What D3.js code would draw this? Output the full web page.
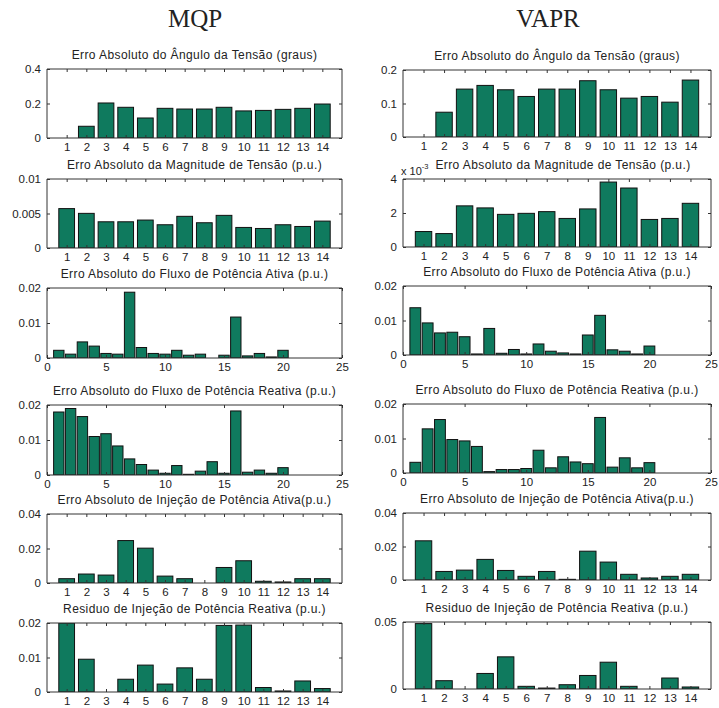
<!DOCTYPE html>
<html><head><meta charset="utf-8">
<script src="https://cdn.jsdelivr.net/npm/d3@7/dist/d3.min.js"></script>
<style>body{margin:0;background:#fff}svg{display:block}</style>
</head><body><svg id="c" width="719" height="708"></svg>
<script>
// ---------- data ----------
const columnTitles = ["MQP", "VAPR"];
const buses = [1,2,3,4,5,6,7,8,9,10,11,12,13,14];
const branches = [1,2,3,4,5,6,7,8,9,10,11,12,13,14,15,16,17,18,19,20];
const branchTicks = [0,5,10,15,20,25];

const panelTitles = [
  "Erro Absoluto do Ângulo da Tensão (graus)",
  "Erro Absoluto da Magnitude de Tensão (p.u.)",
  "Erro Absoluto do Fluxo de Potência Ativa  (p.u.)",
  "Erro Absoluto do Fluxo de Potência Reativa (p.u.)",
  "Erro Absoluto de Injeção de Potência Ativa(p.u.)",
  "Residuo de Injeção de Potência Reativa (p.u.)"
];

const mqpAngle  = [0, 0.068, 0.203, 0.178, 0.116, 0.172, 0.168, 0.168, 0.178, 0.157, 0.160, 0.166, 0.172, 0.197];
const vaprAngle = [0, 0.074, 0.143, 0.154, 0.141, 0.121, 0.143, 0.143, 0.168, 0.141, 0.116, 0.121, 0.104, 0.170];

const mqpMag  = [0.00571, 0.00502, 0.00380, 0.00380, 0.00405, 0.00337, 0.00459, 0.00366, 0.00473, 0.00298, 0.00283, 0.00337, 0.00312, 0.00390];
const vaprMag = [0.00091, 0.00079, 0.00242, 0.00230, 0.00192, 0.00198, 0.00208, 0.00168, 0.00224, 0.00382, 0.00347, 0.00162, 0.00168, 0.00257];

const mqpPFlow  = [0.0022, 0.0011, 0.0046, 0.0034, 0.0013, 0.0011, 0.0188, 0.0030, 0.0013, 0.0011, 0.0022, 0.0008, 0.0011, 0, 0.0008, 0.0117, 0.0006, 0.0013, 0.0003, 0.0022];
const vaprPFlow = [0.0137, 0.0093, 0.0064, 0.0066, 0.0053, 0.0003, 0.0077, 0.0005, 0.0016, 0.0003, 0.0032, 0.0011, 0.0006, 0.0003, 0.0058, 0.0115, 0.0015, 0.0011, 0.0003, 0.0026];

const mqpQFlow  = [0.0180, 0.0190, 0.0167, 0.0110, 0.0118, 0.0083, 0.0046, 0.0030, 0.0014, 0.0005, 0.0027, 0.0002, 0.0011, 0.0038, 0.0005, 0.0183, 0.0008, 0.0014, 0.0005, 0.0021];
const vaprQFlow = [0.0031, 0.0128, 0.0155, 0.0097, 0.0093, 0.0077, 0.0004, 0.0010, 0.0010, 0.0013, 0.0066, 0.0015, 0.0047, 0.0032, 0.0027, 0.0161, 0.0017, 0.0044, 0.0015, 0.0030];

const mqpPInj  = [0.0025, 0.0052, 0.0046, 0.0246, 0.0202, 0.0040, 0.0025, 0, 0.0090, 0.0129, 0.0010, 0.0006, 0.0025, 0.0025];
const vaprPInj = [0.0234, 0.0051, 0.0059, 0.0123, 0.0057, 0.0022, 0.0051, 0.0004, 0.0172, 0.0107, 0.0034, 0.0012, 0.0022, 0.0034];

const mqpQRes  = [0.0200, 0.0095, 0, 0.0037, 0.0078, 0.0023, 0.0070, 0.0037, 0.0193, 0.0194, 0.0013, 0.0003, 0.0032, 0.0010];
const vaprQRes = [0.0488, 0.0062, 0, 0.0116, 0.0240, 0.0020, 0.0007, 0.0032, 0.0101, 0.0200, 0.0020, 0, 0.0082, 0.0015];

// y tick values and labels
const yTicksAngleL = [0, 0.2, 0.4],      yLabAngleL = ["0","0.2","0.4"];
const yTicksAngleR = [0, 0.1, 0.2],      yLabAngleR = ["0","0.1","0.2"];
const yTicksMagL   = [0, 0.005, 0.01],   yLabMagL   = ["0","0.005","0.01"];
const yTicksMagR   = [0, 0.002, 0.004],  yLabMagR   = ["0","2","4"];
const yTicksFlow   = [0, 0.01, 0.02],    yLabFlow   = ["0","0.01","0.02"];
const yTicksInj    = [0, 0.02, 0.04],    yLabInj    = ["0","0.02","0.04"];
const yTicksResL   = [0, 0.01, 0.02],    yLabResL   = ["0","0.01","0.02"];
const yTicksResR   = [0, 0.05],          yLabResR   = ["0","0.05"];

// ---------- layout ----------
const colX = [[47, 342], [403, 711]];
const rowY = [
  [[69,138],[179,248],[288,358],[405,475],[514,583],[623,692]],
  [[70,137],[179,247],[286,355],[404,473],[513,580],[622,689]]
];
const barColor = "#0f7a5e";

const panels = [
  {col:0,row:0,data:mqpAngle, cats:buses, xd:[0,15], yd:[0,0.4], yt:yTicksAngleL, yl:yLabAngleL},
  {col:1,row:0,data:vaprAngle,cats:buses, xd:[0,15], yd:[0,0.2], yt:yTicksAngleR, yl:yLabAngleR},
  {col:0,row:1,data:mqpMag,   cats:buses, xd:[0,15], yd:[0,0.01], yt:yTicksMagL, yl:yLabMagL},
  {col:1,row:1,data:vaprMag,  cats:buses, xd:[0,15], yd:[0,0.004], yt:yTicksMagR, yl:yLabMagR, expo:true},
  {col:0,row:2,data:mqpPFlow, cats:branches, xd:[0,25], yd:[0,0.02], yt:yTicksFlow, yl:yLabFlow, xt:branchTicks},
  {col:1,row:2,data:vaprPFlow,cats:branches, xd:[0,25], yd:[0,0.02], yt:yTicksFlow, yl:yLabFlow, xt:branchTicks},
  {col:0,row:3,data:mqpQFlow, cats:branches, xd:[0,25], yd:[0,0.02], yt:yTicksFlow, yl:yLabFlow, xt:branchTicks},
  {col:1,row:3,data:vaprQFlow,cats:branches, xd:[0,25], yd:[0,0.02], yt:yTicksFlow, yl:yLabFlow, xt:branchTicks},
  {col:0,row:4,data:mqpPInj,  cats:buses, xd:[0,15], yd:[0,0.04], yt:yTicksInj, yl:yLabInj},
  {col:1,row:4,data:vaprPInj, cats:buses, xd:[0,15], yd:[0,0.04], yt:yTicksInj, yl:yLabInj},
  {col:0,row:5,data:mqpQRes,  cats:buses, xd:[0,15], yd:[0,0.02], yt:yTicksResL, yl:yLabResL},
  {col:1,row:5,data:vaprQRes, cats:buses, xd:[0,15], yd:[0,0.05], yt:yTicksResR, yl:yLabResR}
];

const svg = d3.select("#c");
const FONT = "'Liberation Sans', Arial, sans-serif";

// column titles
const colTitleX = [195, 548];
svg.selectAll("text.ct").data(columnTitles).join("text")
  .attr("x", (d,i)=>colTitleX[i]).attr("y", 27)
  .attr("text-anchor","middle")
  .attr("font-family","'Liberation Serif','Times New Roman',serif")
  .attr("font-size", 25).attr("fill","#222").text(d=>d);

panels.forEach((p, idx) => {
  const [x0, x1] = colX[p.col];
  const [y0, y1] = rowY[p.col][p.row];
  const x = d3.scaleLinear().domain(p.xd).range([x0, x1]);
  const y = d3.scaleLinear().domain(p.yd).range([y1, y0]);
  const g = svg.append("g");
  const clipId = "clip" + idx;
  svg.append("clipPath").attr("id", clipId).append("rect")
    .attr("x", x0).attr("y", y0).attr("width", x1 - x0).attr("height", y1 - y0);

  const step = x(1) - x(0);
  const bw = step * (p.cats.length > 14 ? 0.88 : 0.8);

  g.append("g").attr("clip-path", `url(#${clipId})`)
    .selectAll("rect").data(p.data.map((v,i)=>({c:p.cats[i], v}))).join("rect")
    .filter(d => d.v > 0)
    .attr("x", d => x(d.c) - bw/2)
    .attr("y", d => y(d.v))
    .attr("width", bw)
    .attr("height", d => y(0) - y(d.v))
    .attr("fill", barColor).attr("stroke", "#111").attr("stroke-width", 1);

  // axes
  const xTicks = p.xt || p.cats;
  const tl = 3;
  const bottom = d3.axisBottom(x).tickValues(xTicks).tickSize(-tl).tickPadding(5).tickFormat(d3.format("d"));
  const top = d3.axisTop(x).tickValues(xTicks).tickSize(-tl).tickFormat("");
  const left = d3.axisLeft(y).tickValues(p.yt).tickSize(-tl).tickPadding(6).tickFormat((d,i)=>p.yl[i]);
  const right = d3.axisRight(y).tickValues(p.yt).tickSize(-tl).tickFormat("");

  const style = sel => {
    sel.selectAll("path.domain").attr("stroke", "#333").attr("stroke-width", 1);
    sel.selectAll(".tick line").attr("stroke", "#333");
    sel.selectAll("text").attr("font-family", FONT).attr("font-size", 11.5).attr("fill", "#222");
  };
  g.append("g").attr("transform", `translate(0,${y1})`).call(bottom).call(style)
    .call(s => s.select("path.domain").attr("d", `M${x0},0H${x1}`));
  g.append("g").attr("transform", `translate(0,${y0})`).call(top).call(style)
    .call(s => s.select("path.domain").attr("d", `M${x0},0H${x1}`));
  g.append("g").attr("transform", `translate(${x0},0)`).call(left).call(style)
    .call(s => s.select("path.domain").attr("d", `M0,${y0}V${y1}`));
  g.append("g").attr("transform", `translate(${x1},0)`).call(right).call(style)
    .call(s => s.select("path.domain").attr("d", `M0,${y0}V${y1}`));

  let titleShift = 0;
  if (p.expo) {
    const t = g.append("text").attr("x", x0 - 2).attr("y", y0 - 4)
      .attr("font-family", FONT).attr("font-size", 11).attr("fill", "#222");
    t.append("tspan").text("x 10");
    t.append("tspan").attr("dy", -6).attr("font-size", 7.5).text("-3");
    titleShift = 6;
  }

  // title
  g.append("text").attr("x", (x0 + x1)/2 + titleShift).attr("y", y0 - 10)
    .attr("text-anchor", "middle").attr("font-family", FONT)
    .attr("font-size", 12).attr("letter-spacing", 0.4)
    .attr("fill", "#222").text(panelTitles[p.row]);
});
</script>
</body></html>
